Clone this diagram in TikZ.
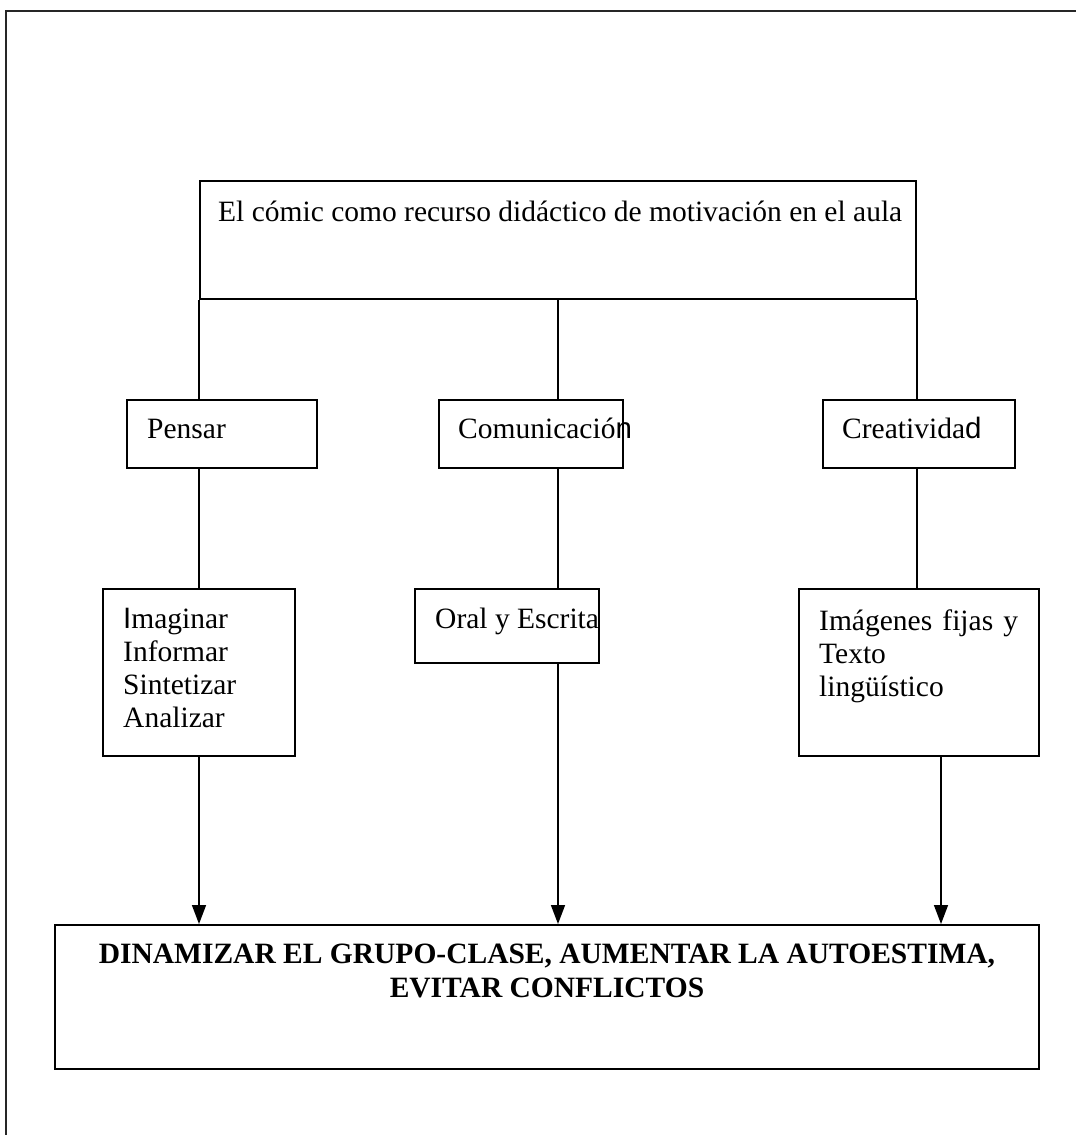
\documentclass[tikz,border=0pt]{standalone}
\usepackage{fontspec}
\setmainfont{Liberation Serif}
\newfontfamily\arialfont{Liberation Sans}
\usetikzlibrary{arrows.meta}
\begin{document}
\begin{tikzpicture}[x=1pt,y=-1pt,
  every node/.style={font=\fontsize{29.5}{33}\selectfont},
  box/.style={draw, line width=2pt, rectangle, inner sep=0pt, anchor=north west},
  txt/.style={anchor=base west, inner sep=0pt},
  link/.style={line width=1.5pt},
  flow/.style={line width=1.5pt, -{Triangle[length=19pt,width=14pt]}}]
  % page extent and open frame (top and left sides only)
  \useasboundingbox (0,0) rectangle (1076,1135);
  \draw[line width=2.5pt, black!85] (6,1135) -- (6,11) -- (1076,11);

  % heading box
  \node[box, minimum width=716pt, minimum height=118pt] (top) at (199,180) {};
  \node[txt] (toptxt) at (218,221) {El cómic como recurso didáctico de motivación en el aula};

  % second row
  \node[box, minimum width=190pt, minimum height=68pt] (pensar) at (126,399) {};
  \node[txt] (pensartxt) at (147,438) {Pensar};
  \node[box, minimum width=184pt, minimum height=68pt] (com) at (438,399) {};
  \node[txt] (comtxt) at (458,438) {Comunicació{\arialfont n}};
  \node[box, minimum width=192pt, minimum height=68pt] (crea) at (822,399) {};
  \node[txt] (creatxt) at (842,438) {Creativida{\arialfont d}};

  % third row
  \node[box, minimum width=192pt, minimum height=167pt] (imag) at (102,588) {};
  \node[txt] (imagtxt) at (123,628)
    {\begin{tabular}[t]{@{}l@{}}{\arialfont I}maginar\\Informar\\Sintetizar\\Analizar\end{tabular}};
  \node[box, minimum width=184pt, minimum height=74pt] (oral) at (414,588) {};
  \node[txt] (oraltxt) at (435,628) {Oral y Escrita};
  \node[box, minimum width=240pt, minimum height=167pt] (imgs) at (798,588) {};
  \node[txt] (imgstxt) at (819,630)
    {\begin{tabular}[t]{@{}l@{}}\makebox[199pt][s]{Imágenes fijas y}\\Texto\\lingüístico\end{tabular}};

  % goal box
  \node[box, minimum width=984pt, minimum height=144pt] (goal) at (54,924) {};
  \node[anchor=base, inner sep=0pt, font=\fontsize{29.5}{34}\selectfont\bfseries]
    (goaltxt) at (547,963)
    {\begin{tabular}[t]{@{}c@{}}DINAMIZAR EL GRUPO-CLASE, AUMENTAR LA AUTOESTIMA,\\EVITAR CONFLICTOS\end{tabular}};

  % branches from the heading
  \coordinate (cl) at (top.south west);
  \coordinate (cm) at (top.south);
  \coordinate (cr) at (top.south east);
  \coordinate (ar) at (941,0);
  \draw[link] (cl) -- (cl |- pensar.north);
  \draw[link] (cm) -- (cm |- com.north);
  \draw[link] (cr) -- (cr |- crea.north);
  \draw[link] (cl |- pensar.south) -- (cl |- imag.north);
  \draw[link] (cm |- com.south) -- (cm |- oral.north);
  \draw[link] (cr |- crea.south) -- (cr |- imgs.north);

  % arrows into the goal box
  \draw[flow] (imag.south) -- (imag.south |- goal.north);
  \draw[flow] (cm |- oral.south) -- (cm |- goal.north);
  \draw[flow] (ar |- imgs.south) -- (ar |- goal.north);
\end{tikzpicture}
\end{document}
